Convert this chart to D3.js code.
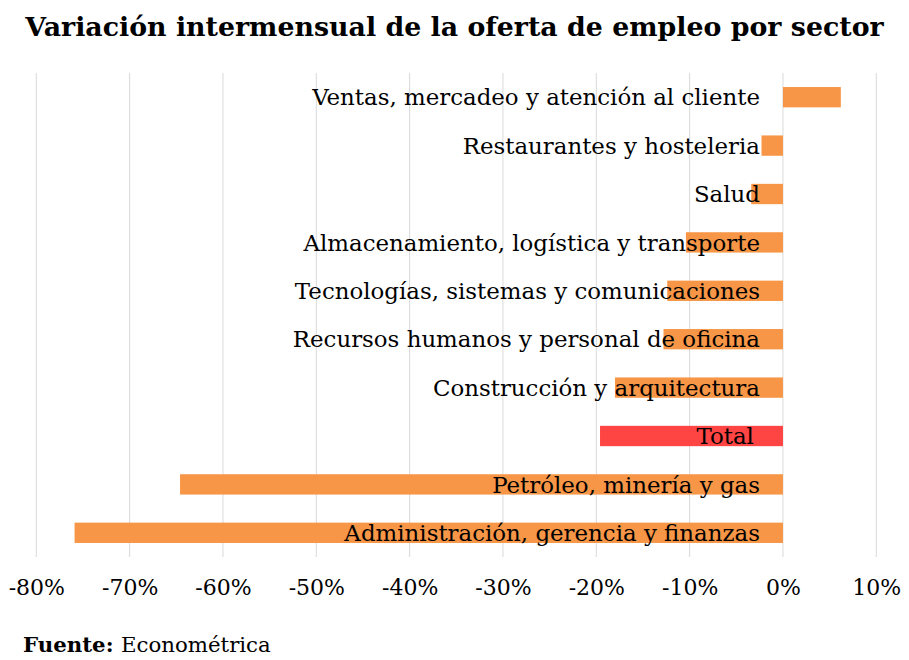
<!DOCTYPE html>
<html><head><meta charset="utf-8">
<script src="https://cdn.jsdelivr.net/npm/d3@7"></script>
<style>
body{margin:0;background:#fff;}
svg{display:block;}
text{font-family:"DejaVu Serif","Liberation Serif",serif;fill:#000;}
</style></head>
<body>
<script>
const categories = [
  "Ventas, mercadeo y atención al cliente",
  "Restaurantes y hosteleria",
  "Salud",
  "Almacenamiento, logística y transporte",
  "Tecnologías, sistemas y comunicaciones",
  "Recursos humanos y personal de oficina",
  "Construcción y arquitectura",
  "Total",
  "Petróleo, minería y gas",
  "Administración, gerencia y finanzas"
];
const values = [6.2, -2.3, -3.4, -10.4, -12.4, -12.8, -18.0, -19.6, -64.6, -75.9];
const tickValues = [-80, -70, -60, -50, -40, -30, -20, -10, 0, 10];
const title = "Variación intermensual de la oferta de empleo por sector";

const W = 909, H = 660;
const svg = d3.select("body").append("svg").attr("width", W).attr("height", H);

const x = d3.scaleLinear().domain([-80, 10]).range([36.3, 876.3]);
const y = d3.scaleBand().domain(categories).range([73, 557]).paddingInner(0.58).paddingOuter(0.29);

// gridlines
svg.append("g").selectAll("line").data(tickValues).join("line")
  .attr("x1", d => x(d)).attr("x2", d => x(d))
  .attr("y1", 73).attr("y2", 557)
  .attr("stroke", "#d9d9d9").attr("stroke-width", 1);

// bars
svg.append("g").selectAll("rect").data(values).join("rect")
  .attr("x", d => x(Math.min(0, d)))
  .attr("width", d => Math.abs(x(d) - x(0)))
  .attr("y", (d, i) => y(categories[i]))
  .attr("height", y.bandwidth())
  .attr("fill", (d, i) => categories[i] === "Total" ? "#FF4444" : "#F79646");

// category labels
svg.append("g").selectAll("text").data(categories).join("text")
  .attr("x", d => d === "Total" ? x(0) - 29 : x(0) - 23)
  .attr("y", d => y(d) + y.bandwidth() / 2)
  .attr("dy", "0.36em")
  .attr("text-anchor", "end")
  .style("font-size", "22.9px")
  .text(d => d);

// x axis labels
const xAxis = d3.axisBottom(x).tickValues(tickValues).tickSize(0).tickFormat(d => d + "%");
const ax = svg.append("g").attr("transform", "translate(0,576)").call(xAxis);
ax.select(".domain").remove();
ax.selectAll("text").style("font-size", "22px").style("font-family", "DejaVu Serif").attr("fill", "#000");

// title
svg.append("text").attr("x", 454.5).attr("y", 36).attr("text-anchor", "middle")
  .style("font-size", "26.8px").style("font-weight", "bold").text(title);

// source
const src = svg.append("text").attr("x", 23).attr("y", 652).style("font-size", "21.3px");
src.append("tspan").style("font-weight", "bold").text("Fuente: ");
src.append("tspan").text("Econométrica");
</script>
</body></html>
